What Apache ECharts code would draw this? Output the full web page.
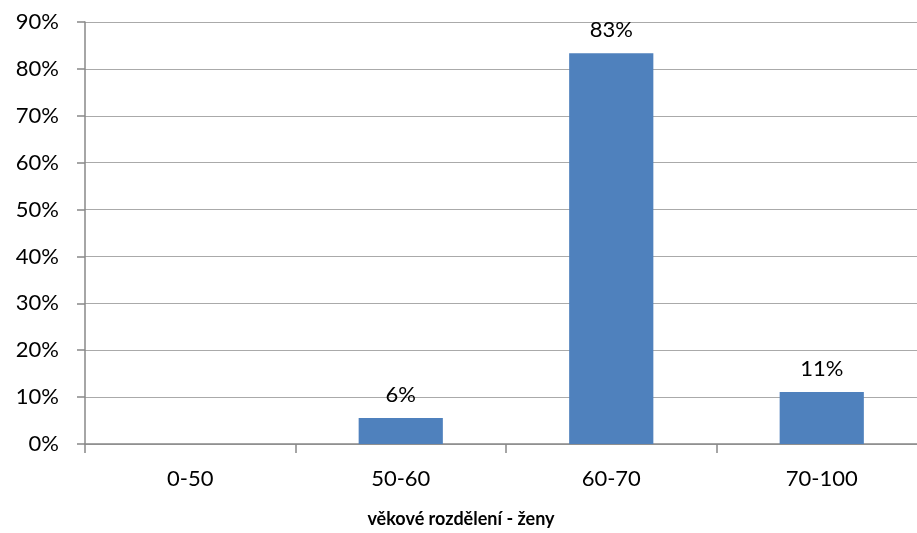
<!DOCTYPE html>
<html>
<head>
<meta charset="utf-8">
<script src="https://cdn.jsdelivr.net/npm/echarts@6/dist/echarts.min.js"></script>
<style>
html,body{margin:0;padding:0;background:#fff;overflow:hidden;}
#c{width:917px;height:533px;}
</style>
</head>
<body>
<div id="c"></div>
<script>
const categories = ['0-50', '50-60', '60-70', '70-100'];
const values = [0, 5.56, 83.33, 11.11];
const yTicks = [0, 10, 20, 30, 40, 50, 60, 70, 80, 90];
const axisTitle = 'věkové rozdělení - ženy';

const FONT = 'Lato, "Open Sans", sans-serif';
const chart = echarts.init(document.getElementById('c'));
chart.setOption({
  animation: false,
  backgroundColor: '#fff',
  grid: { left: 85, right: -10, top: 22, bottom: 89, containLabel: false, outerBoundsMode: 'none' },
  xAxis: {
    type: 'category',
    data: categories,
    name: axisTitle,
    nameLocation: 'middle',
    nameGap: 66,
    nameTextStyle: { fontFamily: FONT, fontSize: 18, fontWeight: 'bold', color: '#000', padding: [0, 90, 0, 0] },
    axisLine: { lineStyle: { color: '#888', width: 1.5 } },
    axisTick: { show: true, length: 9, lineStyle: { color: '#888', width: 1.5 } },
    axisLabel: { fontFamily: FONT, fontSize: 22, color: '#000', margin: 24 }
  },
  yAxis: {
    type: 'value',
    min: yTicks[0],
    max: yTicks[yTicks.length - 1],
    interval: 10,
    axisLine: { show: true, lineStyle: { color: '#888', width: 1.5 } },
    axisTick: { show: true, length: 8, lineStyle: { color: '#888', width: 1.5 } },
    splitLine: { lineStyle: { color: '#aaa', width: 1.2 } },
    axisLabel: { fontFamily: FONT, fontSize: 22, color: '#000', margin: 26, formatter: '{value}%' }
  },
  series: [{
    type: 'bar',
    data: values,
    barWidth: '40%',
    itemStyle: { color: '#4F81BD' },
    label: {
      show: true,
      position: 'top',
      distance: 12,
      fontFamily: FONT,
      fontSize: 22,
      color: '#000',
      formatter: p => p.value > 0 ? Math.round(p.value) + '%' : ''
    }
  }]
});
</script>
</body>
</html>
